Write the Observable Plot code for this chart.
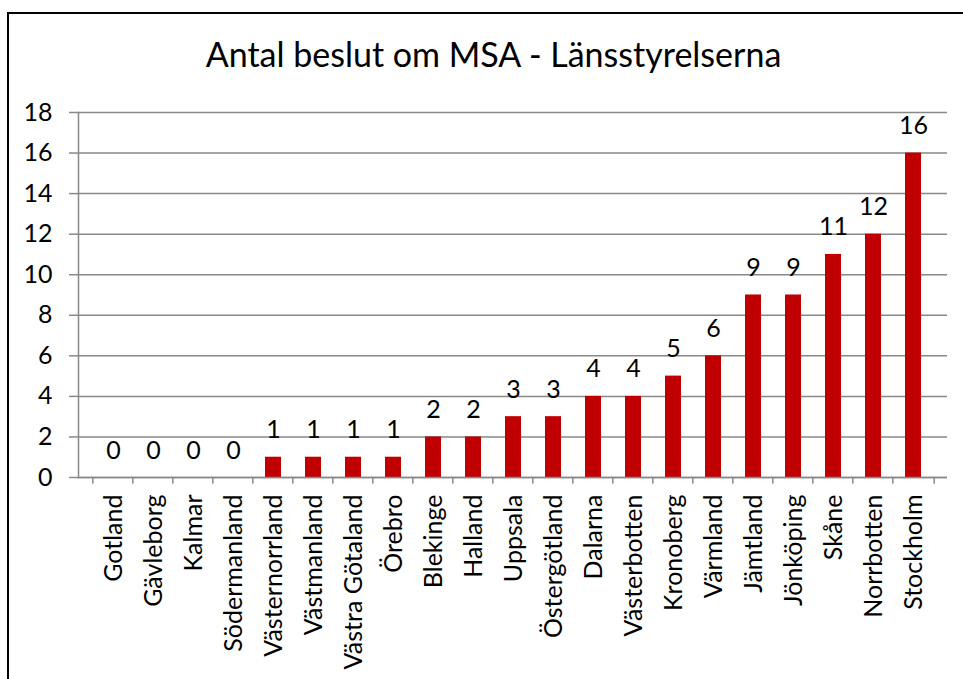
<!DOCTYPE html>
<html>
<head>
<meta charset="utf-8">
<script src="https://cdn.jsdelivr.net/npm/d3@7"></script>
<script src="https://cdn.jsdelivr.net/npm/@observablehq/plot@0.6"></script>
<style>
  html, body { margin: 0; padding: 0; background: #fff; }
  body { width: 963px; height: 679px; position: relative; overflow: hidden; font-family: Lato, "Open Sans", sans-serif; }
  #frame { position: absolute; left: 7px; top: 12px; width: 1000px; height: 700px; border: 2px solid #000; box-sizing: border-box; }
  #title { position: absolute; left: 12px; width: 963px; top: 33px; text-align: center; font-size: 34px; color: #000; font-family: Lato, sans-serif; }
  #chart { position: absolute; left: 0; top: 0; }
</style>
</head>
<body>
<div id="frame"></div>
<div id="title">Antal beslut om MSA - Länsstyrelserna</div>
<div id="chart"></div>
<script>
const categories = ["Gotland","Gävleborg","Kalmar","Södermanland","Västernorrland","Västmanland","Västra Götaland","Örebro","Blekinge","Halland","Uppsala","Östergötland","Dalarna","Västerbotten","Kronoberg","Värmland","Jämtland","Jönköping","Skåne","Norrbotten","Stockholm"];
const values = [0,0,0,0,1,1,1,1,2,2,3,3,4,4,5,6,9,9,11,12,16];
const yTicks = [0,2,4,6,8,10,12,14,16,18];

const data = categories.map((c, i) => ({name: c, value: values[i]}));

const W = 963, ML = 78, MR = 16;
const step = (W - ML - MR) / categories.length;

const chart = Plot.plot({
  width: W,
  height: 679,
  marginLeft: ML,
  marginRight: MR,
  marginTop: 112,
  marginBottom: 202,
  style: {fontFamily: "Lato, sans-serif", fontSize: "25px", background: "transparent", overflow: "visible", color: "#000"},
  x: {domain: categories, padding: 0.6, label: null},
  y: {domain: [0, 18], label: null},
  marks: [
    Plot.gridY(yTicks, {stroke: "#888", strokeOpacity: 1, strokeWidth: 1.5}),
    Plot.frame({anchor: "left", stroke: "#888", strokeWidth: 1.5}),
    Plot.axisY({ticks: yTicks, tickSize: 9, text: null, stroke: "#888", strokeOpacity: 1, strokeWidth: 1.5, label: null}),
    Plot.text(yTicks, {y: d => d, frameAnchor: "left", dx: -26, textAnchor: "end", lineAnchor: "middle", fontSize: 25, fill: "#000", text: d => String(d)}),
    Plot.barY(data, {x: "name", y: "value", fill: "#C00000"}),
    Plot.ruleY([0], {stroke: "#888", strokeWidth: 1.5}),
    Plot.ruleX(categories, {x: d => d, y1: 0, y2: -0.33, dx: -step / 2, stroke: "#888", strokeWidth: 1.5}),
    Plot.ruleX(categories.slice(-1), {x: d => d, y1: 0, y2: -0.33, dx: step / 2, stroke: "#888", strokeWidth: 1.5}),
    Plot.axisX({tickSize: 0, tickRotate: -90, tickPadding: 17, fontSize: 25, fill: "#000", label: null}),
    Plot.text(data, {x: "name", y: "value", text: d => String(d.value), dy: -27, lineAnchor: "middle", fontSize: 25, fill: "#000"})
  ]
});
document.getElementById("chart").appendChild(chart);
</script>
</body>
</html>
